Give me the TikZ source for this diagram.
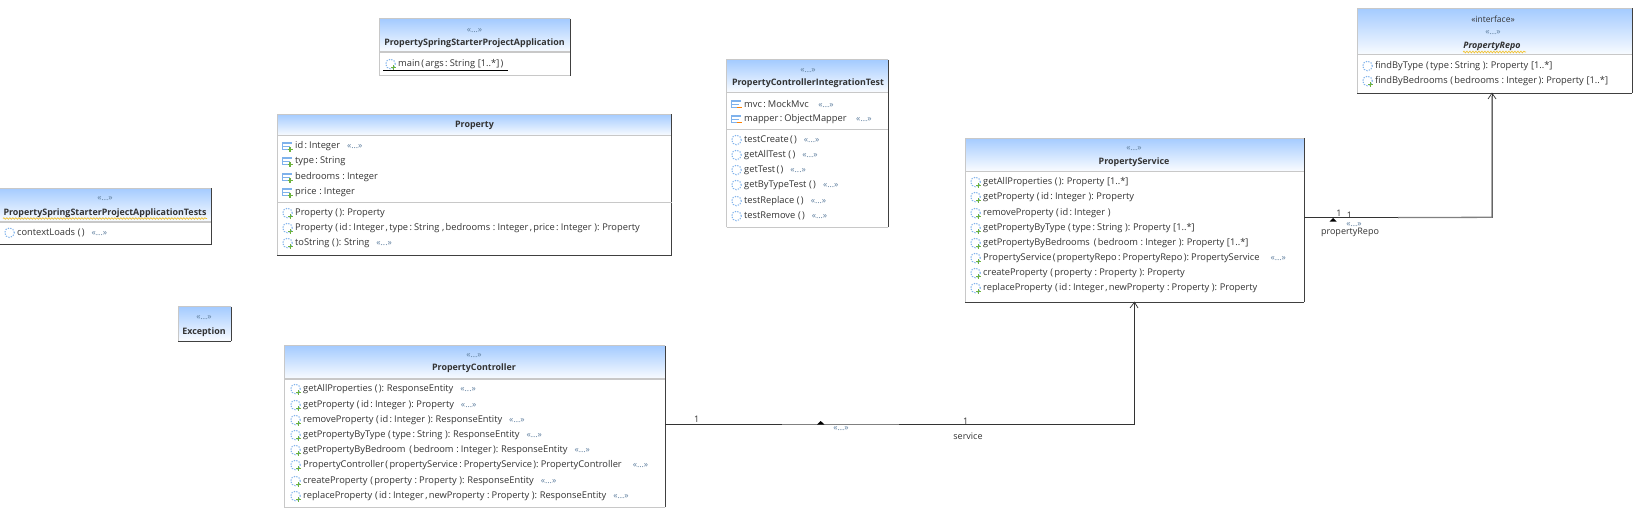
\documentclass[tikz,border=0pt]{standalone}
\usepackage{fontspec}
\setmainfont[WordSpace=0.55]{Open Sans}
\usetikzlibrary{decorations.pathmorphing}
\definecolor{txt}{HTML}{333333}
\definecolor{ster}{HTML}{5F7F9F}
\definecolor{hdtop}{HTML}{A4CBFF}
\definecolor{bd}{HTML}{C8C8C8}
\definecolor{dk}{HTML}{404040}
\definecolor{iconblue}{HTML}{7FB2EC}
\definecolor{plusgreen}{HTML}{6DB33F}
\definecolor{wavy}{HTML}{F2C230}
\tikzset{
  x=1pt,y=-1pt,
  rowtext/.style={anchor=west,inner sep=0pt,text=txt,font=\fontsize{9.3}{11}\selectfont},
  title/.style={anchor=center,inner sep=0pt,text=txt,font=\fontsize{8.9}{11}\selectfont\bfseries},
  stertext/.style={anchor=center,inner sep=0pt,text=ster,font=\fontsize{8.6}{9}\selectfont},
  lbl/.style={anchor=center,inner sep=0pt,text=txt,font=\fontsize{9}{11}\selectfont},
  classbox/.style={draw=none,inner sep=0pt,fill=white},
  assoc/.style={draw=black!80,line width=0.8pt},
  assocsel/.style={draw=black!50,line width=1.3pt},
  sepline/.style={draw=bd,line width=1pt},
  wave/.style={draw=wavy,line width=0.7pt,decorate,decoration={snake,amplitude=0.8pt,segment length=3pt}},
}
\newcommand{\st}{«...»}
% name, left, top, right, bottom, header bottom, bottom-edge colour, separator width
\newcommand{\umlbox}[8]{%
  \pgfmathsetmacro{\bw}{#4-#2}\pgfmathsetmacro{\bh}{#5-#3}%
  \pgfmathsetmacro{\bx}{(#2+#4)/2}\pgfmathsetmacro{\by}{(#3+#5)/2}%
  \node[classbox,minimum width=\bw pt,minimum height=\bh pt] (#1) at (\bx,\by) {};
  \shade[top color=hdtop,bottom color=white!94!hdtop] (#2,#3) rectangle (#4,#6);
  \draw[sepline,line width=#8pt] (#2,#6) -- (#4,#6);
  \draw[draw=bd,line width=1pt] (#2,#5) -- (#2,#3) -- (#4,#3);
  \draw[draw=#7,line width=1pt] (#2,#5) -- (#4,#5);
  \draw[draw=dk,line width=1pt] (#4,#5) -- (#4,#3);
}
\newcommand{\plusmark}[2]{\draw[plusgreen,line width=1.3pt] (#1+0.5,#2+3.6) -- (#1+5.5,#2+3.6) (#1+3,#2+1.1) -- (#1+3,#2+6.1);}
\newcommand{\opicon}[3]{%
  \draw[iconblue,line width=1pt,dash pattern=on 1.3pt off 1.3pt] (#1,#2) circle (4.8pt);
  \ifnum#3=1 \plusmark{#1}{#2}\fi
}
\newcommand{\fdicon}[3]{%
  \draw[iconblue,line width=0.8pt] (#1-4.5,#2+3.5) -- (#1-4.5,#2-3.5) -- (#1+4.5,#2-3.5) (#1-4.5,#2+3.5) -- (#1+1,#2+3.5) (#1-4.5,#2) -- (#1+2.5,#2);
  \draw[iconblue,line width=1.4pt] (#1-4.5,#2-3.2) -- (#1+4.5,#2-3.2);
  \ifnum#3=1 \plusmark{#1}{#2}
  \else \draw[orange,line width=1.3pt] (#1+0.5,#2+3.6) -- (#1+5.5,#2+3.6);\fi
}
\newcommand{\optxt}[5]{\opicon{#2-7.5}{#3}{#4}\node[rowtext] (#1) at (#2,#3) {#5};}
\newcommand{\fdtxt}[5]{\fdicon{#2-8}{#3}{#4}\node[rowtext] (#1) at (#2,#3) {#5};}
\newcommand{\sm}{\hspace{7pt}\textcolor{ster}{\fontsize{8.6}{9}\selectfont \st}}
\begin{document}
\begin{tikzpicture}
\useasboundingbox (0,0) rectangle (1645,527);
\fill[white] (0,0) rectangle (1645,527);

% Application
\umlbox{app}{379}{19}{570}{75.5}{52}{bd}{2}
\node[stertext] (appS) at (474.5,30.7) {\st};
\node[title] (appT) at (474.5,43) {PropertySpringStarterProjectApplication};
\optxt{appm}{398}{64}{1}{main ( args : String\ \ [1..*] )}
\draw[black,line width=0.8pt] (383,70.3) -- (508,70.3);

% Property
\umlbox{prop}{277.3}{114}{671.7}{255}{135.7}{dk}{1}
\node[title] (propT) at (474.5,125.7) {Property};
\draw[sepline] (277.3,202) -- (671.7,202);
\fdtxt{pf1}{295}{146}{1}{id : Integer\sm}
\fdtxt{pf2}{295}{161}{1}{type : String}
\fdtxt{pf3}{295}{177}{1}{bedrooms\ \ : Integer}
\fdtxt{pf4}{295}{192}{1}{price\ \ : Integer}
\optxt{po1}{295}{213}{1}{Property\ \ ( ):\ \ Property}
\optxt{po2}{295}{228}{1}{Property\ \ ( id : Integer , type : String\ \ , bedrooms\ \ : Integer , price : Integer\ \ ):\ \ Property}
\optxt{po3}{295}{243}{1}{toString\ \ ( ):\ \ String\sm}

% Test
\umlbox{test}{726.7}{60}{888}{227.3}{92}{bd}{1}
\node[stertext] (testS) at (808,71) {\st};
\node[title] (testT) at (808,83.5) {PropertyControllerIntegrationTest};
\draw[sepline] (726.7,129.3) -- (888,129.3);
\fdtxt{tf1}{744}{104}{0}{mvc : MockMvc\ \ \sm}
\fdtxt{tf2}{744}{119}{0}{mapper : ObjectMapper\ \ \sm}
\optxt{to1}{744}{140}{0}{testCreate ( )\sm}
\optxt{to2}{744}{155}{0}{getAllTest\ \ ( )\sm}
\optxt{to3}{744}{170}{0}{getTest ( )\sm}
\optxt{to4}{744}{185}{0}{getByTypeTest\ \ ( )\sm}
\optxt{to5}{744}{201}{0}{testReplace\ \ ( )\sm}
\optxt{to6}{744}{216}{0}{testRemove\ \ ( )\sm}

% Repo
\umlbox{repo}{1357.3}{8.5}{1632}{93}{55}{dk}{1}
\node[lbl,font=\fontsize{8.5}{9}\selectfont,text=txt] (repoI) at (1493,19) {«interface»};
\node[stertext] (repoS) at (1493,33) {\st};
\node[title,font=\fontsize{8.9}{11}\selectfont\bfseries\itshape] (repoT) at (1492,46) {PropertyRepo};
\draw[wave] (1463,52) -- (1526,52);
\optxt{ro1}{1375}{66}{0}{findByType\ \ ( type : String\ \ ):\ \ Property\ \ [1..*]}
\optxt{ro2}{1375}{81}{1}{findByBedrooms\ \ ( bedrooms\ \ : Integer ):\ \ Property\ \ [1..*]}

% Service
\umlbox{svc}{965}{138}{1304}{302}{171}{dk}{1}
\node[stertext] (svcS) at (1134,149) {\st};
\node[title] (svcT) at (1134,161.7) {PropertyService};
\optxt{so1}{983}{182}{1}{getAllProperties\ \ ( ):\ \ Property\ \ [1..*]}
\optxt{so2}{983}{197}{1}{getProperty\ \ ( id : Integer\ \ ):\ \ Property}
\optxt{so3}{983}{213}{1}{removeProperty\ \ ( id : Integer\ \ )}
\optxt{so4}{983}{228}{1}{getPropertyByType\ \ ( type : String\ \ ):\ \ Property\ \ [1..*]}
\optxt{so5}{983}{243}{1}{getPropertyByBedrooms\ \ \ ( bedroom\ \ : Integer\ \ ):\ \ Property\ \ [1..*]}
\optxt{so6}{983}{258}{1}{PropertyService ( propertyRepo : PropertyRepo ): PropertyService\hspace{4pt}\sm}
\optxt{so7}{983}{273}{1}{createProperty\ \ ( property\ \ : Property\ \ ):\ \ Property}
\optxt{so8}{983}{288}{1}{replaceProperty\ \ ( id : Integer , newProperty\ \ : Property\ \ ):\ \ Property}

% Controller
\umlbox{ctrl}{284}{345.7}{665}{507.3}{379}{bd}{2}
\node[stertext] (ctrlS) at (474,356) {\st};
\node[title] (ctrlT) at (474,368) {PropertyController};
\optxt{co1}{303}{389}{1}{getAllProperties\ \ ( ):\ \ ResponseEntity\sm}
\optxt{co2}{303}{405}{1}{getProperty\ \ ( id : Integer\ \ ):\ \ Property\sm}
\optxt{co3}{303}{420}{1}{removeProperty\ \ ( id : Integer\ \ ):\ \ ResponseEntity\sm}
\optxt{co4}{303}{435}{1}{getPropertyByType\ \ ( type : String\ \ ):\ \ ResponseEntity\sm}
\optxt{co5}{303}{450}{1}{getPropertyByBedroom\ \ \ ( bedroom\ \ : Integer ):\ \ ResponseEntity\sm}
\optxt{co6}{303}{465}{1}{PropertyController ( propertyService : PropertyService ): PropertyController\hspace{4pt}\sm}
\optxt{co7}{303}{481}{1}{createProperty\ \ ( property\ \ : Property\ \ ):\ \ ResponseEntity\sm}
\optxt{co8}{303}{496}{1}{replaceProperty\ \ ( id : Integer , newProperty\ \ : Property\ \ ):\ \ ResponseEntity\sm}

% Tests
\umlbox{tests}{-2}{188}{211.7}{244}{221.7}{dk}{2}
\node[stertext] (testsS) at (105,199) {\st};
\node[title] (testsT) at (105,212.7) {PropertySpringStarterProjectApplicationTests};
\draw[wave] (3,218.5) -- (207,218.5);
\optxt{tso1}{17}{232.7}{0}{contextLoads\ \ ( )\sm}

% Exception
\umlbox{exc}{178}{306.7}{231}{341}{341}{dk}{1}
\node[stertext] (excS) at (204,318) {\st};
\node[title] (excT) at (204,331.7) {Exception};

% Connectors
\coordinate (cs) at (665,424);
\coordinate (rp) at (1492,217.3);
\draw[assoc] (ctrl.east |- cs) -| (svc.south);
\draw[assocsel] (782,424.2) -- (899,424.2);
\draw[assoc] (svc.east |- rp) -- (rp) -- (rp |- repo.south);
\draw[assocsel] (1398,217.6) -- (rp) -- (1492,96);
\draw[black!80,line width=0.7pt] (1488,99) -- (rp |- repo.south) -- (1496,99);
\draw[black!80,line width=0.7pt] (1130,308) -- (svc.south) -- (1138,308);
\fill[black] (817,424.5) -- (820.7,421) -- (824.4,424.5) -- cycle;
\fill[black] (1329.5,221.5) -- (1333,218) -- (1336.5,221.5) -- cycle;
\node[lbl] (m1) at (696.7,419) {1};
\node[lbl] (m2) at (965.7,421) {1};
\node[stertext] (as1) at (841,428.5) {\st};
\node[lbl] (sv) at (968,436.5) {service};
\node[lbl] (m3) at (1339,213) {1};
\node[lbl] (m4) at (1349.5,215.7) {1};
\node[stertext] (as2) at (1354,224.5) {\st};
\node[lbl] (pr) at (1350,232) {propertyRepo};
\end{tikzpicture}
\end{document}
